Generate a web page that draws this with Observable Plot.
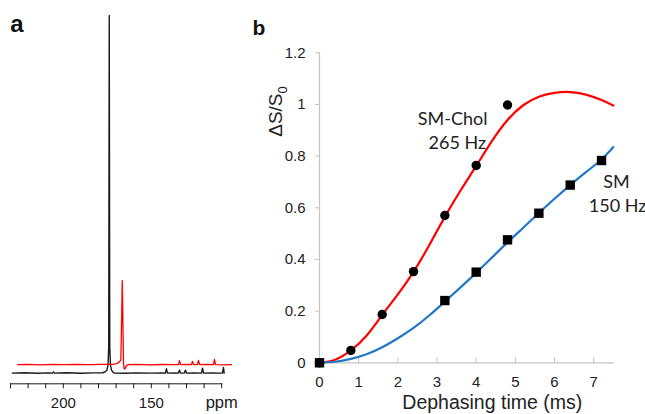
<!DOCTYPE html>
<html>
<head>
<meta charset="utf-8">
<script src="https://cdn.jsdelivr.net/npm/d3@7"></script>
<script src="https://cdn.jsdelivr.net/npm/@observablehq/plot@0.6"></script>
<style>
  html, body { margin: 0; padding: 0; background: #fff; }
  #wrap { position: relative; width: 645px; height: 414px; overflow: hidden; background: #fff; }
  #pa { position: absolute; left: 0; top: 0; }
  #pb { position: absolute; left: 250px; top: 0; }
</style>
</head>
<body>
<div id="wrap"><div id="pa"></div><div id="pb"></div></div>
<script>
// ---------- Panel a: 13C spectra (ppm, intensity) ----------
const ppmTicks = [230, 220, 210, 200, 190, 180, 170, 160, 150, 140, 130, 120, 110];
const ppmLabels = [200, 150];
const ppmUnit = "ppm";

const blackPpm = [229, 222, 215, 208, 206.2, 205.6, 205, 198, 190, 183, 178, 177.2, 176, 175.2, 174.6, 174.2, 173.9, 173.6, 173.2, 172.6, 171.8, 170.9, 165, 158, 150, 144, 142, 141.4, 140.8, 137, 134.6, 134.0, 133.4, 131.2, 130.6, 130.0, 126, 121.5, 120.9, 120.3, 116, 111, 109.6, 109.0, 108.6];
const blackInt = [0, 0.3, -0.2, 0.2, 0, 1.2, 0, 0.3, -0.2, 0.2, 0.2, 0.6, 1.5, 3, 8, 25, 357.7, 25, 8, 3, 1, 0, -0.2, 0.2, 0, 0.1, 0, 4.3, 0, 0.2, 0, 3, 0, 0, 3, 0, 0.1, 0, 5, 0, 0.2, 0, 0, 5.7, 0];

const redPpm = [226, 220, 213, 206, 199, 192, 185, 178, 172, 169.8, 168.4, 167.3, 166.8, 166.5, 166.2, 165.8, 165.4, 164.8, 164.1, 163.0, 158, 151, 144, 138, 134.6, 134.0, 133.4, 129, 127.2, 126.6, 126.0, 123.8, 123.2, 122.6, 118, 114.7, 114.1, 113.5, 109, 104.4];
const redInt = [8.5, 8.8, 8.3, 8.7, 8.4, 8.8, 8.5, 8.7, 8.8, 9.5, 10.8, 13, 60, 92.5, 60, 10, 4.2, 4.5, 7.5, 8.5, 8.7, 8.3, 8.6, 8.4, 8.5, 12.5, 8.5, 8.6, 8.5, 11.8, 8.5, 8.5, 12.8, 8.5, 8.6, 8.5, 13.8, 8.5, 8.3, 8.5];

// ---------- Panel b: REDOR dephasing ----------
const timeTicks = [0, 1, 2, 3, 4, 5, 6, 7];
const valueTicks = [0, 0.2, 0.4, 0.6, 0.8, 1, 1.2];

const cholTime = [0, 0.8, 1.6, 2.4, 3.2, 4.0, 4.8];
const cholValue = [0, 0.048, 0.187, 0.353, 0.57, 0.764, 0.998];

const smTime = [0, 3.2, 4.0, 4.8, 5.6, 6.4, 7.2];
const smValue = [0, 0.241, 0.351, 0.476, 0.579, 0.688, 0.783];

const fitTime = [0, 0.4, 0.8, 1.2, 1.6, 2.0, 2.4, 2.8, 3.2, 3.6, 4.0, 4.4, 4.8, 5.2, 5.6, 6.0, 6.4, 6.8, 7.2, 7.5];
const cholFit = [0, 0.012, 0.048, 0.105, 0.185, 0.265, 0.352, 0.455, 0.565, 0.667, 0.762, 0.858, 0.94, 0.997, 1.03, 1.045, 1.048, 1.038, 1.017, 0.996];
const smFit = [0, 0.004, 0.015, 0.033, 0.06, 0.095, 0.135, 0.183, 0.237, 0.292, 0.348, 0.407, 0.466, 0.523, 0.58, 0.635, 0.688, 0.738, 0.787, 0.835];

const cholLabel = ["SM-Chol", "265 Hz"];
const smLabel = ["SM", "150 Hz"];
const xTitle = "Dephasing time (ms)";

// ---------- build tables ----------
const black = blackPpm.map((p, i) => ({ppm: p, v: blackInt[i]}));
const red = redPpm.map((p, i) => ({ppm: p, v: redInt[i]}));
const cholPts = cholTime.map((t, i) => ({t, v: cholValue[i]}));
const smPts = smTime.map((t, i) => ({t, v: smValue[i]}));
const fit = fitTime.map((t, i) => ({t, chol: cholFit[i], sm: smFit[i]}));

const ARIAL = "'Liberation Sans', Arial, Helvetica, sans-serif";
const CALIBRI = "Lato, Carlito, Calibri, sans-serif";

// ---------- Panel a ----------
const pa = Plot.plot({
  width: 250, height: 414,
  marginLeft: 10, marginRight: 28.8, marginTop: 15, marginBottom: 30.7,
  style: {fontFamily: ARIAL, background: "transparent", color: "#1a1a1a", overflow: "visible"},
  x: {domain: [230, 110]},
  y: {domain: [0, 357.7], range: [372.6, 15], axis: null},
  marks: [
    Plot.frame({anchor: "bottom", stroke: "#1a1a1a", strokeWidth: 1}),
    Plot.axisX({ticks: ppmTicks, tickSize: 5, tickPadding: 9, fontSize: 15, label: null,
      tickFormat: d => ppmLabels.includes(d) ? String(d) : ""}),
    Plot.line(black, {x: "ppm", y: "v", stroke: "#1a1a1a", strokeWidth: 1.4}),
    Plot.line(red, {x: "ppm", y: "v", stroke: "#ff0000", strokeWidth: 1.3}),
    Plot.text([ppmUnit], {x: 110, y: -35, text: d => d, fontSize: 16.5, lineAnchor: "bottom", textAnchor: "middle", fill: "#1a1a1a"})
  ]
});
document.getElementById("pa").appendChild(pa);
d3.select(pa).append("text")
  .attr("x", 17).attr("y", 32)
  .attr("font-family", ARIAL).attr("font-weight", "bold").attr("font-size", 24)
  .attr("fill", "#111").text("a");

// ---------- Panel b ----------
const pb = Plot.plot({
  width: 395, height: 414,
  marginLeft: 69, marginRight: 32.2, marginTop: 52.3, marginBottom: 51.7,
  style: {fontFamily: ARIAL, background: "transparent", color: "#222", overflow: "visible"},
  x: {domain: [0, 7.5]},
  y: {domain: [0, 1.2]},
  marks: [
    Plot.frame({anchor: "left", stroke: "#c4c4c4", strokeWidth: 1.2}),
    Plot.frame({anchor: "bottom", stroke: "#c4c4c4", strokeWidth: 1.2}),
    Plot.axisY({ticks: valueTicks, tickSize: 4, tickPadding: 10, fontSize: 15, label: null,
      stroke: "#c4c4c4", fill: "#222", tickFormat: d => String(+d.toFixed(1))}),
    Plot.axisX({ticks: timeTicks, tickSize: -5, tickPadding: 19, fontSize: 15, label: null,
      stroke: "#c4c4c4", fill: "#222", tickFormat: d => String(d)}),
    Plot.line(fit, {x: "t", y: "chol", stroke: "#ff0000", strokeWidth: 2.2, curve: "natural"}),
    Plot.line(fit, {x: "t", y: "sm", stroke: "#1f77c8", strokeWidth: 2.2, curve: "natural"}),
    Plot.dot(cholPts, {x: "t", y: "v", r: 4.7, fill: "#000", stroke: null}),
    Plot.dot(smPts, {x: "t", y: "v", r: 5.3, symbol: "square", fill: "#000", stroke: null}),
    Plot.text([cholLabel[0]], {x: 3.40, y: 0.922, text: d => d, fontFamily: CALIBRI, fontSize: 18, lineAnchor: "bottom", fill: "#222"}),
    Plot.text([cholLabel[1]], {x: 3.52, y: 0.826, text: d => d, fontFamily: CALIBRI, fontSize: 18, lineAnchor: "bottom", fill: "#222"}),
    Plot.text([smLabel[0]], {x: 7.58, y: 0.677, text: d => d, fontFamily: CALIBRI, fontSize: 18, lineAnchor: "bottom", fill: "#222"}),
    Plot.text([smLabel[1]], {x: 7.61, y: 0.582, text: d => d, fontFamily: CALIBRI, fontSize: 18, lineAnchor: "bottom", fill: "#222"}),
    Plot.text([xTitle], {x: 4.41, y: -0.178, text: d => d, fontSize: 19.5, lineAnchor: "bottom", fill: "#222"})
  ]
});
document.getElementById("pb").appendChild(pb);
const svgB = d3.select(pb);
svgB.append("text")
  .attr("x", 9).attr("y", 35)
  .attr("font-family", ARIAL).attr("font-weight", "bold").attr("font-size", 21)
  .attr("fill", "#111").text("b");
const yl = svgB.append("text")
  .attr("transform", "translate(32,111.5) rotate(-90)")
  .attr("text-anchor", "middle")
  .attr("font-family", ARIAL).attr("font-size", 19).attr("fill", "#222");
yl.append("tspan").text("ΔS/S");
yl.append("tspan").attr("dy", 4.5).attr("font-size", 13).text("0");
</script>
</body>
</html>
